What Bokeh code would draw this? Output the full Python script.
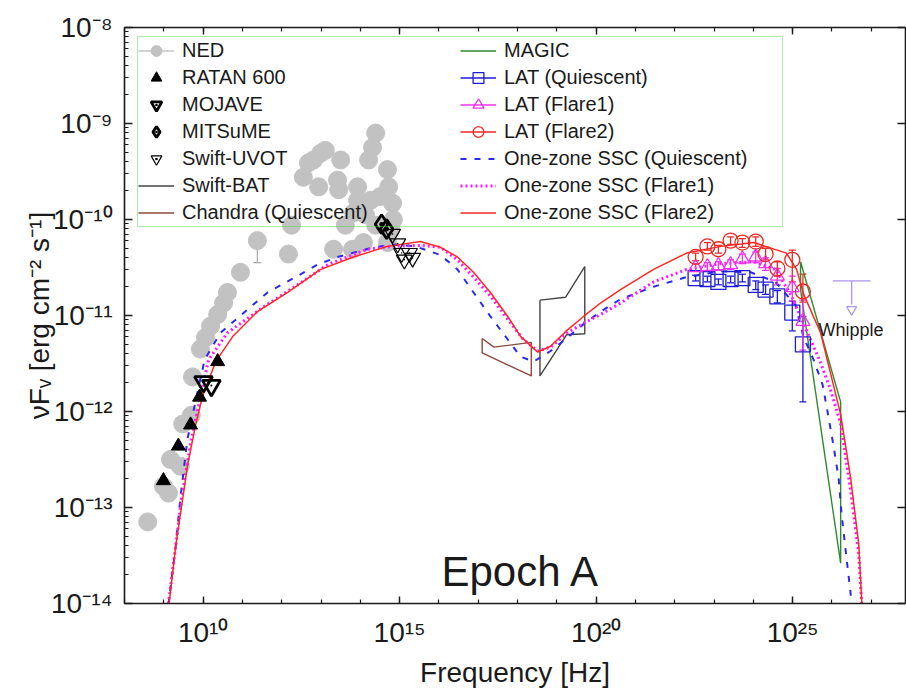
import numpy as np
from bokeh.plotting import figure
from bokeh.models import (ColumnDataSource, Label, Legend, LegendItem, LogAxis,
                          FixedTicker, Whisker, TeeHead, CustomJSTickFormatter)
from bokeh.embed import file_html
from bokeh.resources import INLINE

FONT = "Liberation Sans"

# ---------------------------------------------------------------------------
# Data: log10(frequency / Hz) and log10(nu F_nu / erg cm^-2 s^-1)
# ---------------------------------------------------------------------------
ned_lognu = [8.59, 8.99, 9.12, 9.17, 9.42, 9.48, 9.70, 9.73, 9.93, 10.06, 10.19,
             10.37, 10.52, 10.62, 10.95, 11.38, 12.17, 12.25, 12.55, 12.68, 12.81,
             12.99, 13.11, 13.50, 12.94, 13.42, 13.45, 13.32, 13.80, 13.93, 13.93,
             14.08, 14.26, 14.51, 14.82, 14.84, 13.83, 14.39, 14.31, 14.21, 14.69,
             14.72, 14.77, 14.69, 13.62, 14.39, 14.13]
ned_logf = [-13.15, -12.78, -12.85, -12.50, -12.57, -12.13, -12.04, -11.64, -11.35,
            -11.23, -11.11, -10.99, -10.87, -10.76, -10.55, -10.22, -10.36, -10.06,
            -9.56, -9.41, -9.38, -9.31, -9.28, -9.38, -9.66, -9.59, -9.69, -10.31,
            -10.31, -9.80, -9.66, -10.24, -9.80, -9.76, -9.83, -10.00, -9.93, -9.10,
            -9.25, -9.38, -9.48, -9.66, -10.11, -10.24, -10.06, -10.06, -9.95]
ned_err_lognu = [11.38]
ned_err_lo = [-10.45]
ned_err_hi = [-10.14]

ratan_lognu = [8.99, 9.37, 9.68, 9.91, 10.37]
ratan_logf = [-12.72, -12.36, -12.14, -11.85, -11.48]

mojave_lognu = [10.01, 10.21]
mojave_logf = [-11.69, -11.73]

mitsume_lognu = [14.54, 14.67]
mitsume_logf = [-10.05, -10.10]

uvot_lognu = [14.82, 14.95, 15.05, 15.12, 15.25, 15.33]
uvot_logf = [-10.15, -10.25, -10.35, -10.42, -10.35, -10.40]

# butterfly outlines (closed)
bat_lognu = [18.57, 19.22, 19.71, 19.71, 19.25, 18.57, 18.57]
bat_logf = [-10.84, -10.81, -10.49, -11.19, -11.20, -11.63, -10.84]

chandra_lognu = [17.10, 17.40, 18.35, 18.35, 17.10, 17.10]
chandra_logf = [-11.24, -11.33, -11.28, -11.63, -11.39, -11.24]

magic_lognu = [25.20, 26.22, 26.22, 25.20, 25.20]
magic_logf = [-10.44, -11.90, -13.58, -10.73, -10.44]

# Fermi-LAT spectra
lat_lognu = [22.53, 22.83, 23.11, 23.42, 23.72, 24.06, 24.31, 24.61, 24.99, 25.26]
latq_logf = [-10.61, -10.62, -10.65, -10.62, -10.61, -10.68, -10.73, -10.80, -10.97, -11.30]
latq_up = [0.03, 0.03, 0.03, 0.03, 0.04, 0.04, 0.05, 0.06, 0.12, 0.29]
latq_dn = [0.03, 0.03, 0.03, 0.04, 0.04, 0.05, 0.05, 0.07, 0.19, 0.60]
latf1_logf = [-10.50, -10.49, -10.48, -10.47, -10.41, -10.39, -10.46, -10.59, -10.71, -11.06]
latf1_up = [0.04, 0.04, 0.04, 0.05, 0.05, 0.05, 0.06, 0.08, 0.12, 0.22]
latf1_dn = [0.04, 0.04, 0.05, 0.05, 0.05, 0.06, 0.07, 0.09, 0.14, 0.30]
latf2_logf = [-10.39, -10.28, -10.31, -10.22, -10.24, -10.23, -10.36, -10.51, -10.42, -10.75]
latf2_up = [0.04, 0.04, 0.04, 0.04, 0.04, 0.05, 0.06, 0.07, 0.10, 0.18]
latf2_dn = [0.04, 0.04, 0.04, 0.04, 0.05, 0.05, 0.06, 0.08, 0.23, 0.11]

# Whipple upper limit
whipple_lognu = [26.02, 26.98]
whipple_center = 26.50
whipple_ul = -10.64
whipple_arrow_end = -10.99

# one-zone SSC model curves
sscq_lognu = [9.07, 9.30, 9.42, 9.60, 9.91, 10.04, 10.44, 11.21, 11.64, 12.22,
              12.91, 13.42, 14.34, 14.90, 15.40, 16.04, 16.47, 16.88, 17.31, 17.75,
              18.08, 18.41, 18.84, 19.27, 19.68, 20.11, 20.62, 21.46, 22.30, 23.17,
              23.93, 24.56, 25.07, 25.28, 25.53, 25.76, 25.89, 26.04, 26.17, 26.24,
              26.35, 26.47, 26.52]
sscq_logf = [-14.16, -13.41, -12.91, -12.29, -11.70, -11.46, -11.18, -10.91, -10.76, -10.63,
             -10.47, -10.39, -10.29, -10.26, -10.28, -10.37, -10.52, -10.76, -11.01, -11.25,
             -11.43, -11.48, -11.37, -11.23, -11.09, -10.96, -10.83, -10.70, -10.60, -10.54,
             -10.55, -10.65, -10.89, -11.23, -11.46, -11.72, -12.01, -12.36, -12.70, -13.05,
             -13.46, -13.88, -14.16]
ssc1_lognu = [9.07, 9.30, 9.45, 9.70, 10.01, 10.14, 10.62, 11.54, 12.48, 13.17,
              13.67, 14.18, 14.77, 15.53, 16.04, 16.47, 16.88, 17.31, 17.75, 18.15,
              18.51, 18.84, 19.27, 19.68, 20.11, 20.62, 21.46, 22.30, 23.17, 24.01,
              24.56, 24.95, 25.28, 25.71, 25.96, 26.22, 26.47, 26.68, 26.78]
ssc1_logf = [-14.16, -13.41, -12.91, -12.29, -11.70, -11.46, -11.18, -10.91, -10.66, -10.47,
             -10.39, -10.31, -10.28, -10.27, -10.29, -10.42, -10.60, -10.80, -11.04, -11.25,
             -11.37, -11.33, -11.18, -11.08, -10.99, -10.87, -10.65, -10.52, -10.46, -10.44,
             -10.52, -10.78, -11.09, -11.49, -11.77, -12.13, -12.81, -13.48, -14.16]
ssc2_lognu = [9.09, 9.30, 9.48, 9.60, 9.81, 9.98, 10.32, 10.77, 11.38, 12.15,
              12.99, 13.83, 14.69, 15.53, 16.04, 16.47, 16.88, 17.31, 17.75, 18.08,
              18.51, 18.84, 19.27, 19.68, 20.11, 20.62, 21.46, 22.30, 23.17, 24.01,
              24.84, 25.10, 25.28, 25.71, 26.22, 26.47, 26.68, 26.78]
ssc2_logf = [-14.16, -13.41, -12.91, -12.57, -12.14, -11.85, -11.48, -11.21, -10.96, -10.76,
             -10.52, -10.39, -10.28, -10.23, -10.29, -10.39, -10.55, -10.76, -11.01, -11.22,
             -11.38, -11.32, -11.15, -11.01, -10.87, -10.73, -10.52, -10.35, -10.28, -10.24,
             -10.35, -10.52, -10.78, -11.18, -12.03, -12.68, -13.38, -14.16]

x_major_exp = [10, 15, 20, 25]
y_major_exp = [-14, -13, -12, -11, -10, -9, -8]

# ---------------------------------------------------------------------------
# Figure geometry
# ---------------------------------------------------------------------------
LX0, LX1 = 8.0, 27.87
LY0, LY1 = -14.0, -8.0
W, H = 906, 690
BL, BR, BT, BB = 124, 1, 27, 85
FRAME_W, FRAME_H = W - BL - BR, H - BT - BB
PX_Y = (LY1 - LY0) / FRAME_H   # decades per vertical pixel


def e10(v):
    return np.power(10.0, np.asarray(v, dtype=float))


p = figure(width=W, height=H, x_axis_type="log", y_axis_type="log",
           x_range=(10 ** LX0, 10 ** LX1), y_range=(10 ** LY0, 10 ** LY1),
           output_backend="svg", toolbar_location=None,
           min_border_left=BL, min_border_right=BR, min_border_top=BT,
           min_border_bottom=BB)
p.grid.visible = False
p.outline_line_color = None
p.background_fill_color = "white"
p.border_fill_color = "white"

x_ticker = FixedTicker(ticks=list(e10(x_major_exp)),
                       minor_ticks=list(e10(np.arange(8, 28))))
y_minor = [m * 10.0 ** k for k in range(-14, -8) for m in range(2, 10)]
y_ticker = FixedTicker(ticks=list(e10(y_major_exp)), minor_ticks=y_minor)

# tick labels written as 10 followed by a superscript exponent
power_fmt = CustomJSTickFormatter(code="""
const sup = {"0": "\\u2070", "1": "\\u00b9", "2": "\\u00b2", "3": "\\u00b3",
             "4": "\\u2074", "5": "\\u2075", "6": "\\u2076", "7": "\\u2077",
             "8": "\\u2078", "9": "\\u2079", "-": "\\u207b"};
const e = Math.round(Math.log10(tick));
return "10" + String(e).split("").map((c) => sup[c]).join("");
""")
blank_fmt = CustomJSTickFormatter(code="return ''")


def style_axis(ax, major_in, minor_in):
    ax.major_tick_in = major_in
    ax.major_tick_out = 0
    ax.minor_tick_in = minor_in
    ax.minor_tick_out = 0
    ax.axis_line_width = 1.6
    ax.axis_line_color = "#1a1a1a"
    ax.major_tick_line_width = 1.4
    ax.major_tick_line_color = "#1a1a1a"
    ax.minor_tick_line_width = 1.2
    ax.minor_tick_line_color = "#1a1a1a"
    ax.major_label_text_font = FONT
    ax.major_label_text_color = "#1a1a1a"
    ax.axis_label_text_font = FONT
    ax.axis_label_text_font_style = "normal"
    ax.axis_label_text_color = "#1a1a1a"


xax = p.xaxis[0]
yax = p.yaxis[0]
xax.ticker = x_ticker
yax.ticker = y_ticker
style_axis(xax, 7, 4)
style_axis(yax, 8, 4)
for ax in (xax, yax):
    ax.formatter = power_fmt
    ax.major_label_text_font_size = "28px"
xax.major_label_standoff = 13
yax.major_label_standoff = 12
xax.axis_label = "Frequency [Hz]"
xax.axis_label_text_font_size = "28px"
xax.axis_label_standoff = 6
yax.axis_label = "\u03bdF\u1d65 [erg cm\u207b\u00b2 s\u207b\u00b9]"
yax.axis_label_text_font_size = "28px"
yax.axis_label_standoff = -7

top_axis = LogAxis(ticker=x_ticker, formatter=blank_fmt)
style_axis(top_axis, 7, 4)
top_axis.major_label_text_font_size = "8px"
top_axis.major_label_standoff = 0
p.add_layout(top_axis, "above")
right_axis = LogAxis(ticker=FixedTicker(ticks=list(e10(y_major_exp))),
                     formatter=blank_fmt)
style_axis(right_axis, 8, 0)
right_axis.major_label_text_font_size = "8px"
right_axis.major_label_standoff = 0
p.add_layout(right_axis, "right")

# ---------------------------------------------------------------------------
# Colours
# ---------------------------------------------------------------------------
C_NED = "#c2c2c2"
C_BAT = "#454545"
C_CHANDRA = "#8e4a3c"
C_MAGIC = "#2f8a2f"
C_Q = "#1c1cd6"
C_F1 = "#ee33ee"
C_F2 = "#ec2a24"
C_SSCQ = "#2a2ae8"
C_SSC1 = "#ff1aff"
C_SSC2 = "#ff2626"
C_UL = "#ad96ec"

# ---------------------------------------------------------------------------
# Observational data
# ---------------------------------------------------------------------------
ned_err = p.segment(x0=e10(ned_err_lognu), x1=e10(ned_err_lognu),
                    y0=e10(ned_err_lo), y1=e10(ned_err_hi),
                    line_color="#a8a8a8", line_width=1.2)
ned_err_src = ColumnDataSource(dict(x=e10(ned_err_lognu), lo=e10(ned_err_lo),
                                    hi=e10(ned_err_hi)))
p.add_layout(Whisker(source=ned_err_src, base="x", lower="lo", upper="hi", line_alpha=0,
                     lower_head=TeeHead(size=8, line_color="#a8a8a8", line_width=1.2),
                     upper_head=TeeHead(size=8, line_color="#a8a8a8", line_width=1.2)))
ned = p.scatter(e10(ned_lognu), e10(ned_logf), marker="circle", size=18,
                fill_color=C_NED, line_color=C_NED)

# X-ray butterflies
bat = p.line(e10(bat_lognu), e10(bat_logf), line_color=C_BAT, line_width=1.4)
chandra = p.line(e10(chandra_lognu), e10(chandra_logf), line_color=C_CHANDRA,
                 line_width=1.4)
magic = p.line(e10(magic_lognu), e10(magic_logf), line_color=C_MAGIC, line_width=1.4)

# SSC models
sscq = p.line(e10(sscq_lognu), e10(sscq_logf), line_color=C_SSCQ, line_width=2.0,
              line_dash="6 8")
ssc1 = p.line(e10(ssc1_lognu), e10(ssc1_logf), line_color=C_SSC1, line_width=3.0,
              line_dash="2 3")
ssc2 = p.line(e10(ssc2_lognu), e10(ssc2_logf), line_color=C_SSC2, line_width=1.5)

ratan = p.scatter(e10(ratan_lognu), e10(ratan_logf), marker="triangle", size=14,
                  fill_color="black", line_color="black")
mojave = p.scatter(e10(mojave_lognu), e10(mojave_logf), marker="inverted_triangle",
                   size=18, fill_color=None, line_color="black", line_width=2.8)
mojave_dot = p.scatter(e10(mojave_lognu), e10(mojave_logf), marker="dot", size=8,
                       line_color="black", fill_color="black")
mitsume = p.scatter(e10(mitsume_lognu), e10(mitsume_logf), marker="diamond_dot",
                    size=19, fill_color=None, line_color="black", line_width=2.8)
uvot = p.scatter(e10(uvot_lognu), e10(uvot_logf), marker="inverted_triangle",
                 size=16, fill_color=None, line_color="black", line_width=1.2)
uvot_dot = p.scatter(e10(uvot_lognu), e10(uvot_logf), marker="dot", size=6,
                     line_color="black", fill_color="black")


def lat_points(logf, up, dn, color, marker, size):
    logf = np.asarray(logf)
    hi = e10(logf + np.asarray(up))
    lo = e10(logf - np.asarray(dn))
    src = ColumnDataSource(dict(x=e10(lat_lognu), y=e10(logf), lo=lo, hi=hi))
    err = p.segment(x0="x", x1="x", y0="lo", y1="hi", source=src,
                    line_color=color, line_width=1.3)
    p.add_layout(Whisker(source=src, base="x", lower="lo", upper="hi", line_alpha=0,
                         lower_head=TeeHead(size=7, line_color=color, line_width=1.3),
                         upper_head=TeeHead(size=7, line_color=color, line_width=1.3)))
    pts = p.scatter("x", "y", source=src, marker=marker, size=size, fill_color=None,
                    line_color=color, line_width=1.3)
    return [err, pts]


latq = lat_points(latq_logf, latq_up, latq_dn, C_Q, "square", 15)
latf1 = lat_points(latf1_logf, latf1_up, latf1_dn, C_F1, "triangle", 14)
latf2 = lat_points(latf2_logf, latf2_up, latf2_dn, C_F2, "circle", 15)

# Whipple upper limit: bar plus downward arrow (open head ending at the tip)
p.segment(x0=e10(whipple_lognu[0]), x1=e10(whipple_lognu[1]),
          y0=e10(whipple_ul), y1=e10(whipple_ul), line_color=C_UL, line_width=1.3)
head = 10
p.segment(x0=e10(whipple_center), x1=e10(whipple_center),
          y0=e10(whipple_ul), y1=e10(whipple_arrow_end + head * PX_Y),
          line_color=C_UL, line_width=1.3)
p.scatter(e10([whipple_center]), e10([whipple_arrow_end + head / 2 * PX_Y]),
          marker="inverted_triangle", size=head, fill_color="white",
          line_color=C_UL, line_width=1.2)

# ---------------------------------------------------------------------------
# Legend
# ---------------------------------------------------------------------------
items = [
    LegendItem(label="NED", renderers=[ned_err, ned]),
    LegendItem(label="RATAN 600", renderers=[ratan]),
    LegendItem(label="MOJAVE", renderers=[mojave, mojave_dot]),
    LegendItem(label="MITSuME", renderers=[mitsume]),
    LegendItem(label="Swift-UVOT", renderers=[uvot, uvot_dot]),
    LegendItem(label="Swift-BAT", renderers=[bat]),
    LegendItem(label="Chandra (Quiescent)", renderers=[chandra]),
    LegendItem(label="MAGIC", renderers=[magic]),
    LegendItem(label="LAT (Quiescent)", renderers=latq),
    LegendItem(label="LAT (Flare1)", renderers=latf1),
    LegendItem(label="LAT (Flare2)", renderers=latf2),
    LegendItem(label="One-zone SSC (Quiescent)", renderers=[sscq]),
    LegendItem(label="One-zone SSC (Flare1)", renderers=[ssc1]),
    LegendItem(label="One-zone SSC (Flare2)", renderers=[ssc2]),
]
legend = Legend(items=items, ncols=2, location=(13, 376), margin=0, padding=0,
                spacing=0, glyph_width=36, glyph_height=27, label_height=27,
                label_width=278, label_standoff=8,
                label_text_font=FONT, label_text_font_size="20px",
                label_text_color="#1a1a1a",
                border_line_color="#5ad65a", border_line_width=1.5,
                background_fill_alpha=0.0)
p.add_layout(legend)


# ---------------------------------------------------------------------------
# In-frame texts (positions in pixels from the frame's bottom-left corner)
# ---------------------------------------------------------------------------
def add_text(fx, fy, text, size):
    x = 10 ** (LX0 + fx * (LX1 - LX0) / FRAME_W)
    y = 10 ** (LY0 + fy * PX_Y)
    p.add_layout(Label(x=x, y=y, text=text, text_font=FONT,
                       text_font_size=f"{size}px", text_align="left",
                       text_baseline="alphabetic", text_color="#1a1a1a"))


add_text(317, 32, "Epoch A", 42)
add_text(694, 274, "Whipple", 18)

with open("out.html", "w", encoding="utf-8") as fh:
    fh.write(file_html(p, INLINE))
